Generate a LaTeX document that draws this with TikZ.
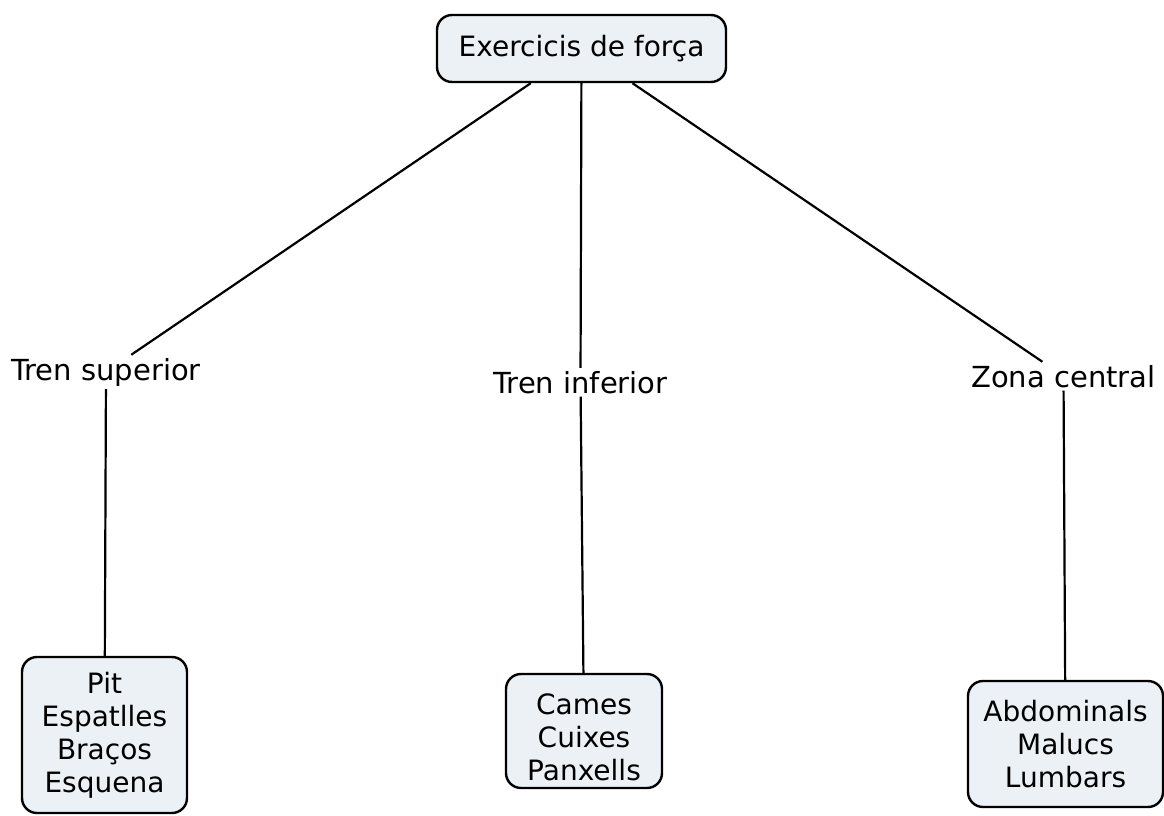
\documentclass[tikz,border=0pt]{standalone}
\usepackage{fontspec}
\setmainfont{DejaVu Sans}
\definecolor{boxfill}{RGB}{235,241,244}
\begin{document}
\begin{tikzpicture}[x=1pt,y=-1pt,
  every node/.style={font=\fontsize{28}{33}\selectfont},
  concept/.style={draw=black, line width=2.4pt, fill=boxfill, rounded corners=15pt, align=center, inner sep=0pt},
  branch/.style={inner sep=3pt, font=\fontsize{29}{34}\selectfont},
  link/.style={draw=black, line width=2.2pt}]
\useasboundingbox (0,0) rectangle (1164,816);
\node[concept, minimum width=289pt, minimum height=67pt] (top) at (581.5,48.5) {Exercicis de força};
\node[branch, anchor=base] (ts) at (106,380) {Tren superior};
\node[branch, anchor=base] (ti) at (580.5,393) {Tren inferior};
\node[branch, anchor=base] (zc) at (1063.5,387) {Zona central};
\node[concept, minimum width=165pt, minimum height=156pt] (b1) at (104.5,735) {Pit\\Espatlles\\Braços\\Esquena};
\node[concept, minimum width=156pt, minimum height=114pt] (b2) at (584,731) {\rule{0pt}{33pt}Cames\\Cuixes\\Panxells};
\node[concept, minimum width=195pt, minimum height=126pt] (b3) at (1065.5,744) {Abdominals\\Malucs\\Lumbars};
\draw[link] (top) -- (ts);
\draw[link] (top) -- (ti);
\draw[link] (top) -- (zc);
\draw[link] (ts) -- (b1);
\draw[link] (ti) -- (b2);
\draw[link] (zc) -- (b3);
\end{tikzpicture}
\end{document}
